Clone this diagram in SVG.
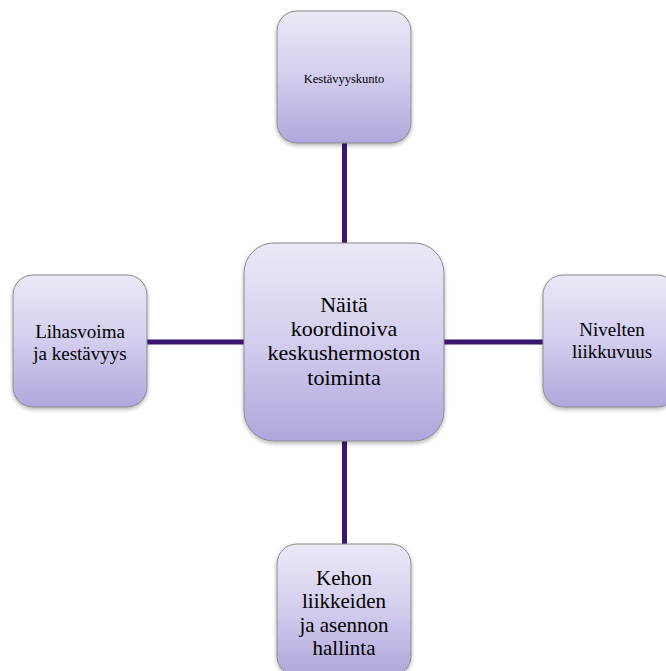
<svg xmlns="http://www.w3.org/2000/svg" width="666" height="671" viewBox="0 0 666 671">
<defs>
<linearGradient id="g" x1="0" y1="0" x2="0" y2="1">
<stop offset="0" stop-color="#ebe9f6"/>
<stop offset="0.5" stop-color="#d3cdee"/>
<stop offset="1" stop-color="#b0a6dc"/>
</linearGradient>
<filter id="sh" x="-10%" y="-10%" width="130%" height="130%">
<feGaussianBlur in="SourceAlpha" stdDeviation="2"/>
<feOffset dx="0" dy="2"/>
<feComponentTransfer><feFuncA type="linear" slope="0.3"/></feComponentTransfer>
<feMerge><feMergeNode/><feMergeNode in="SourceGraphic"/></feMerge>
</filter>
</defs>
<style>
.box{fill:url(#g);stroke:#8a8a8a;stroke-width:1;filter:url(#sh)}
.c{stroke:#3a166e;stroke-width:5;fill:none}
text{font-family:Liberation Serif,Times New Roman,DejaVu Serif,serif;fill:#000;text-anchor:middle}
</style>
<rect width="666" height="671" fill="#fff"/>
<g id="connectors">
<line class="c" x1="344.5" y1="143" x2="344.5" y2="243"/>
<line class="c" x1="344.5" y1="441" x2="344.5" y2="544"/>
<line class="c" x1="147" y1="342" x2="244" y2="342"/>
<line class="c" x1="444" y1="342" x2="543" y2="342"/>
</g>
<g id="top">
<rect class="box" x="277" y="11" width="134" height="132" rx="20"/>
<text x="344" y="83" font-size="12.5">Kestävyyskunto</text>
</g>
<g id="center">
<rect class="box" x="244" y="243" width="200" height="198" rx="30"/>
<text font-size="22"><tspan x="344" y="312">Näitä</tspan><tspan x="344" y="336">koordinoiva</tspan><tspan x="344" y="360">keskushermoston</tspan><tspan x="344" y="385">toiminta</tspan></text>
</g>
<g id="left">
<rect class="box" x="13" y="275" width="134" height="132" rx="20"/>
<text font-size="19"><tspan x="80" y="338">Lihasvoima</tspan><tspan x="80" y="360">ja kestävyys</tspan></text>
</g>
<g id="right">
<rect class="box" x="543" y="275" width="134" height="132" rx="20"/>
<text font-size="19"><tspan x="612" y="336">Nivelten</tspan><tspan x="612" y="358">liikkuvuus</tspan></text>
</g>
<g id="bottom">
<rect class="box" x="277" y="544" width="134" height="132" rx="20"/>
<text font-size="21"><tspan x="344" y="585">Kehon</tspan><tspan x="344" y="608">liikkeiden</tspan><tspan x="344" y="632">ja asennon</tspan><tspan x="344" y="655">hallinta</tspan></text>
</g>
</svg>
